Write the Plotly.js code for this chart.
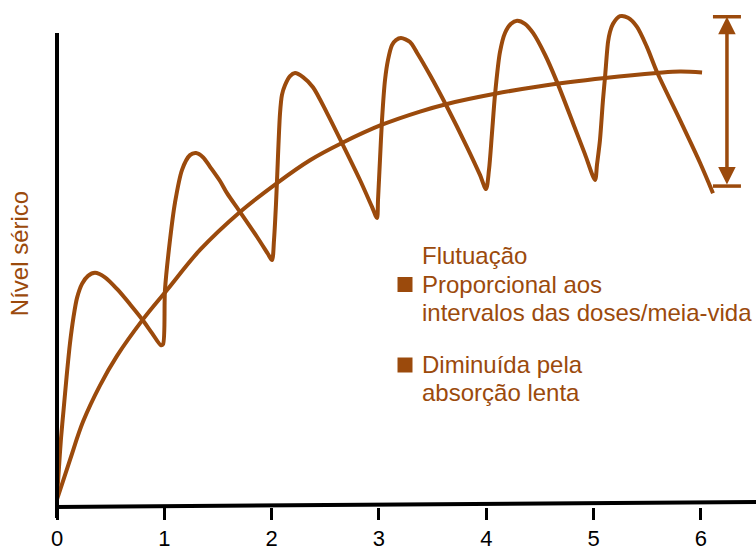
<!DOCTYPE html>
<html><head><meta charset="utf-8">
<script src="https://cdn.plot.ly/plotly-3.0.1.min.js"></script>
<style>html,body{margin:0;padding:0;background:#fff}#chart{width:756px;height:550px}</style>
</head><body><div id="chart"></div>
<script>
// ---- data (time in dosing intervals, serum level in arbitrary units 0-100) ----
const tickValues = [0, 1, 2, 3, 4, 5, 6];
const tickLabels = ['0', '1', '2', '3', '4', '5', '6'];

const pulsedTime = [0, 0.019, 0.037, 0.061, 0.089, 0.121, 0.154, 0.186, 0.233, 0.289, 0.354, 0.447, 0.559, 0.680, 0.801, 0.885, 0.969, 0.988,
  1.006, 1.053, 1.099, 1.165, 1.239, 1.295, 1.360, 1.426, 1.519, 1.584, 1.705, 1.863, 1.966, 2.003,
  2.022, 2.040, 2.050, 2.078, 2.096, 2.124, 2.171, 2.217, 2.292, 2.385, 2.516, 2.655, 2.823, 2.935, 2.981,
  2.991, 3.009, 3.028, 3.056, 3.084, 3.121, 3.158, 3.205, 3.289, 3.354, 3.475, 3.634, 3.820, 3.941, 3.997,
  4.025, 4.053, 4.081, 4.127, 4.174, 4.230, 4.286, 4.360, 4.435, 4.547, 4.659, 4.808, 4.919, 5.013,
  5.031, 5.059, 5.087, 5.106, 5.134, 5.152, 5.180, 5.246, 5.320, 5.404, 5.497, 5.590, 5.805, 5.991, 6.112];
const pulsedLevel = [2.0, 8.0, 13.5, 19.1, 25.6, 32.3, 37.5, 41.2, 44.0, 45.6, 46.2, 45.3, 43.0, 40.0, 36.8, 34.3, 31.9, 32.1,
  42.8, 52.7, 60.0, 66.5, 69.4, 69.8, 69.0, 67.1, 64.3, 61.9, 58.2, 53.3, 49.9, 48.7,
  52.7, 59.6, 64.5, 77.7, 81.3, 83.2, 85.0, 85.6, 84.8, 82.8, 77.7, 71.8, 64.5, 59.2, 57.0,
  60.6, 68.4, 76.3, 84.2, 88.2, 91.1, 92.1, 92.5, 91.7, 89.6, 85.2, 78.9, 71.0, 65.5, 62.7,
  66.5, 73.8, 81.3, 89.7, 93.5, 95.3, 95.9, 95.3, 93.5, 89.2, 83.8, 75.7, 69.6, 64.5,
  67.5, 72.4, 80.3, 84.8, 91.7, 93.7, 95.3, 96.8, 96.5, 94.7, 90.7, 85.8, 76.3, 67.9, 61.9];

const slowTime = [0, 0.121, 0.242, 0.401, 0.559, 0.801, 1.025, 1.332, 1.705, 2.050, 2.357, 2.655, 3.028, 3.382, 3.634, 4.081, 4.500, 5.106, 5.590, 5.805, 6.010];
const slowLevel = [1.5, 9.3, 16.8, 24.0, 29.8, 37.0, 42.8, 50.7, 58.2, 63.9, 68.4, 71.8, 75.4, 78.0, 79.5, 81.5, 83.0, 84.6, 85.6, 85.9, 85.7];

const fluctuationTime = [6.242, 6.242];
const fluctuationLevel = [63.3, 96.7];

const yAxisTitle = 'Nível sérico';
const legendTitle = 'Flutuação';
const legendItems = [['Proporcional aos', 'intervalos das doses/meia-vida'], ['Diminuída pela', 'absorção lenta']];

// ---- styling / layout ----
const BROWN = '#9B4A0C';
const FONT = 'Liberation Sans, Arial, Helvetica, sans-serif';
const W = 756, H = 550, ML = 57, MR = 0, MT = 0, MB = 43;
const PW = W - ML - MR, PH = H - MT - MB;
const px = x => (x - ML) / PW;           // pixel -> paper x
const py = y => (H - MB - y) / PH;       // pixel -> paper y

const traces = [
  {x: slowTime, y: slowLevel, mode: 'lines', line: {color: BROWN, width: 4, shape: 'spline', smoothing: 1}, hoverinfo: 'skip'},
  {x: pulsedTime, y: pulsedLevel, mode: 'lines', line: {color: BROWN, width: 4, shape: 'spline', smoothing: 0.8}, hoverinfo: 'skip'},
  {x: fluctuationTime, y: fluctuationLevel, mode: 'markers', marker: {symbol: 'line-ew', size: 20, color: BROWN, line: {color: BROWN, width: 3.5}}, hoverinfo: 'skip', cliponaxis: false}
];

const annotations = [
  {x: fluctuationTime[0], y: fluctuationLevel[1], ax: fluctuationTime[1], ay: fluctuationLevel[0], xref: 'x', yref: 'y', axref: 'x', ayref: 'y',
   text: '', showarrow: true, arrowhead: 2, startarrowhead: 2, arrowside: 'end+start', arrowwidth: 3.5, arrowsize: 1, startarrowsize: 1,
   arrowcolor: BROWN, standoff: 0, startstandoff: 0}
];
const lineYs = [255, 284, 312, 364, 392];
const legendLines = [legendTitle, legendItems[0][0], legendItems[0][1], legendItems[1][0], legendItems[1][1]];
legendLines.forEach((t, i) => annotations.push({
  x: px(420), y: py(lineYs[i]), xref: 'paper', yref: 'paper', xanchor: 'left', yanchor: 'middle',
  text: t, showarrow: false, font: {family: FONT, size: 24, color: BROWN}
}));

const squareYs = [284.5, 365];
const shapes = [
  {type: 'line', xref: 'paper', yref: 'paper', x0: 0, x1: 0, y0: py(518), y1: py(33), line: {color: '#000', width: 4}},
  {type: 'line', xref: 'paper', yref: 'paper', x0: px(55), x1: 1, y0: py(507), y1: py(502), line: {color: '#000', width: 4}}
];
squareYs.forEach(c => shapes.push({type: 'rect', xref: 'paper', yref: 'paper', x0: px(397.5), x1: px(412.5), y0: py(c + 7.5), y1: py(c - 7.5),
  fillcolor: BROWN, line: {width: 0}}));

const layout = {
  width: W, height: H, margin: {l: ML, r: MR, t: MT, b: MB},
  paper_bgcolor: '#fff', plot_bgcolor: '#fff', showlegend: false,
  font: {family: FONT},
  xaxis: {range: [0, PW / 107.33], tickvals: tickValues, ticktext: tickLabels, ticks: 'outside', ticklen: 12, tickwidth: 3, tickcolor: '#000',
          showgrid: false, zeroline: false, showline: false, tickfont: {family: FONT, size: 22, color: '#000'}, fixedrange: true},
  yaxis: {range: [0, 100], showticklabels: false, ticks: '', showgrid: false, zeroline: false, showline: false, fixedrange: true,
          title: {text: yAxisTitle, font: {family: FONT, size: 24, color: BROWN}, standoff: 20}},
  shapes: shapes, annotations: annotations
};
Plotly.newPlot('chart', traces, layout, {displayModeBar: false, staticPlot: true});
</script></body></html>
